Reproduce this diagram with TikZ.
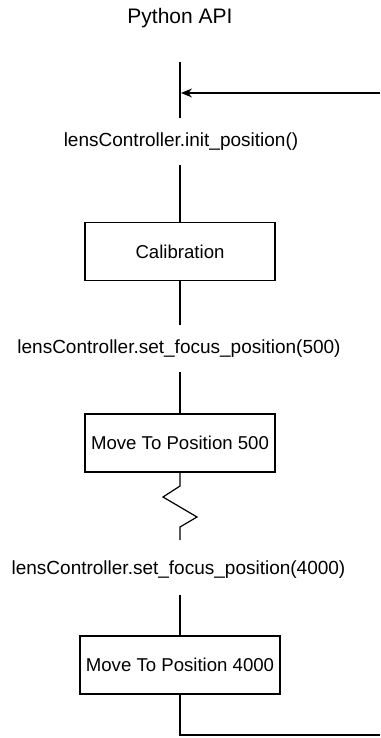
\documentclass[tikz,border=0pt]{standalone}
\usepackage{fontspec}
\setmainfont{Liberation Sans}
\usetikzlibrary{arrows.meta}

\begin{document}
\begin{tikzpicture}[x=1pt,y=-1pt,line width=1.2pt,
    callbox/.style={draw, fill=white, minimum width=190pt, minimum height=58pt,
        inner sep=0pt, font=\fontsize{18.6}{22}\selectfont},
    apicall/.style={font=\fontsize{19}{22}\selectfont, inner sep=0pt}]
        \useasboundingbox (0,0) rectangle (380,738);

        \node[font=\fontsize{21}{24}\selectfont] (title) at (180,18) {Python API};

        % incoming loop arrow
        \coordinate (top) at (180,62);
        \coordinate (topend) at (180,118);
        \coordinate (loopin) at (380,93);
        \coordinate (hit) at (181,93);
        \draw (top) -- (topend);
        \draw[-{Stealth[length=11pt,width=9pt]}] (loopin) -- (hit);

        \node[apicall] (init) at (181,142) {lensController.init\_position()};
        \node[callbox] (calib) at (180,251.5) {Calibration};
        \coordinate (a1) at (180,165);
        \coordinate (a2) at (180,325);
        \draw (a1) -- (calib.north);
        \draw (calib.south) -- (a2);

        \node[apicall] (set500) at (179,349) {lensController.set\_focus\_position(500)};
        \node[callbox] (move500) at (180,443) {Move To Position 500};
        \coordinate (b1) at (180,372);
        \draw (b1) -- (move500.north);

        % break in the timeline
        \coordinate (z1) at (180,486);
        \coordinate (z2) at (163,497);
        \coordinate (z3) at (197,517);
        \coordinate (z4) at (180,527);
        \coordinate (z5) at (180,540);
        \draw (move500.south) -- (z1) -- (z2) -- (z3) -- (z4) -- (z5);

        \node[apicall] (set4000) at (178.5,570) {lensController.set\_focus\_position(4000)};
        \node[callbox, minimum width=200pt] (move4000) at (180,665) {Move To Position 4000};
        \coordinate (c1) at (180,595);
        \draw (c1) -- (move4000.north);

        % back to the start
        \coordinate (loopout) at (380,735);
        \draw (move4000.south) |- (loopout);
    \end{tikzpicture}
\end{document}
